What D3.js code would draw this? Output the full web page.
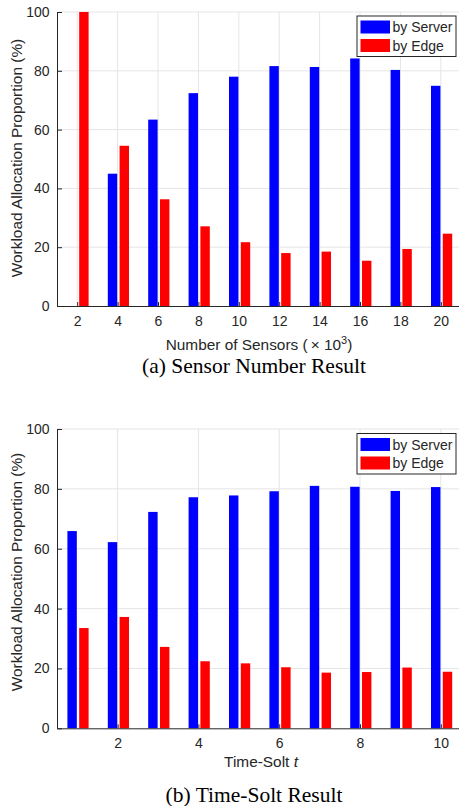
<!DOCTYPE html>
<html>
<head>
<meta charset="utf-8">
<script src="https://cdn.jsdelivr.net/npm/d3@7"></script>
<style>
  body { margin: 0; background: #fff; }
  svg text { font-family: "Liberation Sans", Arial, sans-serif; fill: #262626; }
  .caption { font-family: "Liberation Serif", "Times New Roman", serif !important; fill: #000 !important; }
</style>
</head>
<body>
<svg id="chart" width="459" height="806"></svg>
<script>
// panel (a): sensor number
const sensorCounts = [2, 4, 6, 8, 10, 12, 14, 16, 18, 20];
const sensorServer = [0, 45.0, 63.4, 72.4, 78.0, 81.6, 81.3, 84.2, 80.3, 74.9];
const sensorEdge = [100, 54.5, 36.3, 27.1, 21.7, 18.0, 18.5, 15.4, 19.4, 24.6];
const sensorTicks = [2, 4, 6, 8, 10, 12, 14, 16, 18, 20];

// panel (b): time slot
const timeSlots = [1, 2, 3, 4, 5, 6, 7, 8, 9, 10];
const timeServer = [65.9, 62.2, 72.3, 77.2, 77.8, 79.2, 81.0, 80.7, 79.3, 80.6];
const timeEdge = [33.5, 37.2, 27.2, 22.4, 21.7, 20.4, 18.6, 18.8, 20.3, 18.9];
const timeTicks = [2, 4, 6, 8, 10];

const yTicks = [0, 20, 40, 60, 80, 100];
const seriesNames = ["by Server", "by Edge"];
const colors = ["#0000ff", "#ff0000"];

const svg = d3.select("#chart");

function drawPanel(opts) {
	const g = svg.append("g");
	const x = d3.scaleLinear().domain(opts.xDomain).range([57, 461]);
	const y = d3.scaleLinear().domain([0, 100]).range([opts.bottom, opts.top]);
	const sub = d3.scaleBand().domain(seriesNames).range([-9.8, 11.4]).paddingInner(0.2);

	// grid
	g.append("g")
		.selectAll("line")
		.data(yTicks.slice(1))
		.enter()
		.append("line")
		.attr("x1", x.range()[0])
		.attr("x2", x.range()[1])
		.attr("y1", (d) => y(d))
		.attr("y2", (d) => y(d))
		.attr("stroke", "#e5e5e5");
	g.append("g")
		.selectAll("line")
		.data(opts.ticks)
		.enter()
		.append("line")
		.attr("x1", (d) => x(d))
		.attr("x2", (d) => x(d))
		.attr("y1", y(0))
		.attr("y2", y(100))
		.attr("stroke", "#e5e5e5");

	// bars
	const rows = opts.cats.map((c, i) => ({ c, vals: [opts.server[i], opts.edge[i]] }));
	const grp = g.append("g")
		.selectAll("g")
		.data(rows)
		.enter()
		.append("g")
		.attr("transform", (d) => `translate(${x(d.c)},0)`);
	grp.selectAll("rect")
		.data((d) => d.vals.map((v, k) => ({ v, k })))
		.enter()
		.append("rect")
		.attr("x", (d) => sub(seriesNames[d.k]))
		.attr("width", sub.bandwidth())
		.attr("y", (d) => y(d.v))
		.attr("height", (d) => y(0) - y(d.v))
		.attr("fill", (d) => colors[d.k]);

	// axes
	const xAxis = d3.axisBottom(x).tickValues(opts.ticks).tickSizeInner(-4).tickSizeOuter(0).tickPadding(10);
	const ax = g.append("g").attr("transform", `translate(0,${y(0)})`).call(xAxis);
	ax.select(".domain").attr("stroke", "#262626");
	ax.selectAll(".tick line").attr("stroke", "#262626");
	ax.selectAll("text").attr("font-size", 14).attr("fill", "#262626");

	const yAxis = d3.axisLeft(y).tickValues(yTicks).tickSizeInner(-5).tickSizeOuter(0).tickPadding(7.5);
	const ay = g.append("g").attr("transform", `translate(${x.range()[0]},0)`).call(yAxis);
	ay.select(".domain").attr("stroke", "#262626");
	ay.selectAll(".tick line").attr("stroke", "#262626");
	ay.selectAll("text").attr("font-size", 14).attr("fill", "#262626");

	// y label
	g.append("text")
		.attr("transform", `translate(21.5,${opts.yLabelY}) rotate(-90)`)
		.attr("text-anchor", "middle")
		.attr("font-size", 15.4)
		.text("Workload Allocation Proportion (%)");

	// x label
	opts.xLabel(g.append("text")
		.attr("x", opts.xLabelX)
		.attr("y", opts.xLabelBase)
		.attr("text-anchor", "middle")
		.attr("font-size", 15.4));

	// caption
	g.append("text")
		.attr("class", "caption")
		.attr("x", 254)
		.attr("y", opts.captionBase)
		.attr("text-anchor", "middle")
		.attr("font-size", 21.5)
		.text(opts.caption);

	// legend
	const lg = g.append("g").attr("transform", `translate(357,${opts.legendTop})`);
	lg.append("rect")
		.attr("width", 99)
		.attr("height", 40.5)
		.attr("fill", "#fff")
		.attr("stroke", "#262626")
		.attr("stroke-width", 1);
	seriesNames.forEach((name, k) => {
		lg.append("rect")
			.attr("x", 3.5)
			.attr("y", 4.5 + k * 18.5)
			.attr("width", 29.5)
			.attr("height", 13)
			.attr("fill", colors[k]);
		lg.append("text")
			.attr("x", 35.5)
			.attr("y", 16 + k * 18.5)
			.attr("font-size", 14)
			.attr("fill", "#000")
			.text(name);
	});
}

drawPanel({
	cats: sensorCounts,
	server: sensorServer,
	edge: sensorEdge,
	ticks: sensorTicks,
	xDomain: [1, 21],
	top: 12,
	bottom: 306,
	yLabelY: 158,
	xLabelX: 259,
	xLabelBase: 350,
	xLabel: (t) => {
		t.append("tspan").text("Number of Sensors (\u2009\u00d7 10");
		t.append("tspan").attr("dy", -6).attr("font-size", 11).text("3");
		t.append("tspan").attr("dy", 6).text(")");
	},
	caption: "(a) Sensor Number Result",
	captionBase: 373,
	legendTop: 16
});

drawPanel({
	cats: timeSlots,
	server: timeServer,
	edge: timeEdge,
	ticks: timeTicks,
	xDomain: [0.5, 10.5],
	top: 429,
	bottom: 728.3,
	yLabelY: 572,
	xLabelX: 261,
	xLabelBase: 767,
	xLabel: (t) => {
		t.append("tspan").text("Time-Solt ");
		t.append("tspan").attr("font-style", "italic").text("t");
	},
	caption: "(b) Time-Solt Result",
	captionBase: 801.5,
	legendTop: 433.5
});
</script>
</body>
</html>
